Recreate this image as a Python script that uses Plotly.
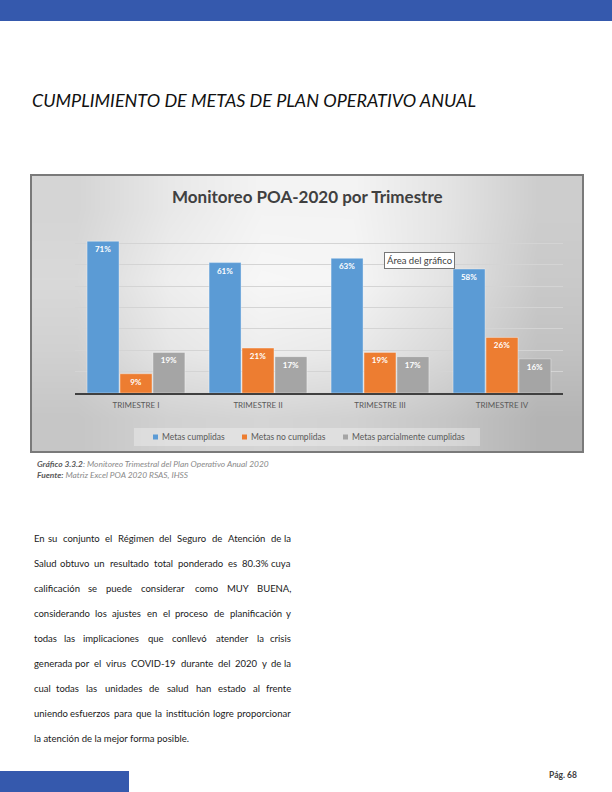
import plotly.graph_objects as go

W, H = 612, 792

categories = ["TRIMESTRE I", "TRIMESTRE II", "TRIMESTRE III", "TRIMESTRE IV"]
series_names = ["Metas cumplidas", "Metas no cumplidas", "Metas parcialmente cumplidas"]
metas_cumplidas = [0.71, 0.61, 0.63, 0.58]
metas_no_cumplidas = [0.09, 0.21, 0.19, 0.26]
metas_parciales = [0.19, 0.17, 0.17, 0.16]
series_values = [metas_cumplidas, metas_no_cumplidas, metas_parciales]
series_colors = ["#5B9BD5", "#ED7D31", "#A5A5A5"]

body_lines = [
    "En su conjunto el Régimen del Seguro de Atención de la",
    "Salud obtuvo un resultado total ponderado es 80.3% cuya",
    "calificación se puede considerar como MUY BUENA,",
    "considerando los ajustes en el proceso de planificación y",
    "todas las implicaciones que conllevó atender la crisis",
    "generada por el virus COVID-19 durante del 2020 y de la",
    "cual todas las unidades de salud han estado al frente",
    "uniendo esfuerzos para que la institución logre proporcionar",
    "la atención de la mejor forma posible.",
]

# background gradient levels (styling only)
bg_levels = [
    [0.55, 0.80, 0.95, 0.95, 0.75, 0.45],
    [0.60, 0.88, 1.00, 0.98, 0.74, 0.40],
    [0.50, 0.78, 0.88, 0.82, 0.60, 0.30],
    [0.35, 0.50, 0.55, 0.50, 0.35, 0.12],
]

# approximate glyph advance widths (per 1000 em) used only to justify text
CW = {" ": 193, "a": 493, "b": 556, "c": 459, "d": 556, "e": 522, "f": 319, "g": 496,
      "h": 556, "i": 235, "j": 235, "k": 508, "l": 235, "m": 831, "n": 556, "o": 548,
      "p": 548, "q": 556, "r": 371, "s": 424, "t": 352, "u": 556, "v": 506, "w": 770,
      "x": 488, "y": 506, "z": 448, "A": 672, "B": 631, "C": 666, "D": 734, "E": 554,
      "F": 534, "G": 712, "H": 752, "I": 276, "J": 396, "K": 666, "L": 478, "M": 914,
      "N": 752, "O": 800, "P": 591, "Q": 800, "R": 620, "S": 524, "T": 568, "U": 726,
      "V": 672, "W": 1018, "X": 644, "Y": 624, "Z": 594, ",": 230, ".": 230, "%": 760,
      "-": 340}
ACC = {"á": "a", "é": "e", "í": "i", "ó": "o", "ú": "u", "ñ": "n"}


def text_w(s, size):
    return 1.04 * sum(CW.get(ACC.get(c, c), 580) for c in s) * size / 1000.0


def px(x):
    return x / W


def py(y):
    return 1 - y / H


# chart box
bx0, by0, bx1, by1 = 31, 175, 583, 452
# plot area
plx0, plx1 = 75, 563
ply_top, ply_bot = 222, 393

fig = go.Figure()

fig.add_trace(go.Heatmap(
    z=bg_levels[::-1], zsmooth="best", showscale=False, hoverinfo="skip",
    colorscale=[[0, "#ababab"], [1, "#f7f7f7"]], zmin=0, zmax=1,
    xaxis="x", yaxis="y",
))

for name, vals, col in zip(series_names, series_values, series_colors):
    fig.add_trace(go.Bar(
        x=categories, y=vals, name=name, showlegend=False,
        marker=dict(color=col, line=dict(color="rgba(255,255,255,0.6)", width=0.6)),
        texttemplate="%{y:.0%}", textposition="inside", insidetextanchor="end",
        textfont=dict(family="Lato", size=8, color="white", weight="bold"),
        textangle=0,
        xaxis="x2", yaxis="y2",
    ))

fig.update_layout(
    width=W, height=H,
    margin=dict(l=0, r=0, t=0, b=0),
    paper_bgcolor="white", plot_bgcolor="rgba(0,0,0,0)",
    showlegend=False,
    barmode="group", bargap=0.19, bargroupgap=0.03,
    xaxis=dict(domain=[px(bx0), px(bx1)], visible=False, range=[-0.5, 5.5], fixedrange=True),
    yaxis=dict(domain=[py(by1), py(by0)], visible=False, range=[-0.5, 3.5], fixedrange=True),
    xaxis2=dict(domain=[px(plx0), px(plx1)], anchor="y2",
                showline=True, linecolor="#404040", linewidth=1.5,
                ticks="outside", ticklen=4, tickcolor="rgba(0,0,0,0)",
                tickfont=dict(family="Lato", size=8, color="#595959"),
                showgrid=False),
    yaxis2=dict(domain=[py(ply_bot), py(ply_top)], anchor="x2", range=[0, 0.8],
                dtick=0.1, showgrid=True, gridcolor="#d4d4d4", gridwidth=1,
                showticklabels=False, zeroline=False),
)

shapes = [
    dict(type="rect", x0=0, x1=1, y0=py(21), y1=1,
         fillcolor="#3559AD", line=dict(width=0)),
    dict(type="rect", x0=0, x1=px(129), y0=0, y1=py(771),
         fillcolor="#3559AD", line=dict(width=0)),
    dict(type="rect", x0=px(bx0), x1=px(bx1), y0=py(by1), y1=py(by0),
         fillcolor="rgba(0,0,0,0)", line=dict(color="#7a7a7a", width=2)),
    # legend box
    dict(type="rect", x0=px(134), x1=px(480), y0=py(446), y1=py(428),
         fillcolor="rgba(255,255,255,0.3)", line=dict(width=0)),
]

ann = []
# manual legend
leg_x = [153, 242, 343]
for name, col, lx in zip(series_names, series_colors, leg_x):
    shapes.append(dict(type="rect", x0=px(lx), x1=px(lx + 5), y0=py(439.5), y1=py(434.5),
                       fillcolor=col, line=dict(width=0)))
    ann.append(dict(text=name, x=px(lx + 7), y=py(437), xanchor="left", yanchor="middle",
                    font=dict(family="Lato", size=8.5, color="#595959")))

for s in shapes:
    s.update(xref="paper", yref="paper", layer="above")
fig.update_layout(shapes=shapes)

ann.append(dict(text="<i>CUMPLIMIENTO DE METAS DE PLAN OPERATIVO ANUAL</i>", x=px(30), y=py(100),
                xanchor="left", yanchor="middle",
                font=dict(family="Lato", size=18, color="#111111")))
ann.append(dict(text="<b>Monitoreo POA-2020 por Trimestre</b>", x=px(307), y=py(196),
                xanchor="center", yanchor="middle",
                font=dict(family="Lato", size=17, color="#404040")))
ann.append(dict(text="Área del gráfico", x=px(419), y=py(260), xanchor="center", yanchor="middle",
                font=dict(family="Lato", size=9.5, color="#404040"), bgcolor="white",
                bordercolor="#777777", borderwidth=1, borderpad=2))
ann.append(dict(text="<b><i>Gráfico 3.3.2</i></b><i><span style='color:#8a8a8a'>: Monitoreo Trimestral del Plan Operativo Anual 2020</span></i>"
                     "<br><b><i>Fuente:</i></b><i><span style='color:#8a8a8a'> Matriz Excel POA 2020 RSAS, IHSS</span></i>",
                x=px(35), y=py(469.5), xanchor="left", yanchor="middle", align="left",
                font=dict(family="Lato", size=8.4, color="#595959")))

# justified body text
BODY_SIZE = 9.5
left, right = 32, 293
for i, line in enumerate(body_lines):
    yy = py(538 + 25 * i)
    if i == len(body_lines) - 1:
        ann.append(dict(text=line, x=px(left), y=yy, xanchor="left", yanchor="middle",
                        font=dict(family="Lato", size=BODY_SIZE, color="#1a1a1a")))
        continue
    words = line.split()
    widths = [text_w(w, BODY_SIZE) for w in words]
    gap = (right - left - sum(widths)) / (len(words) - 1)
    cur = left
    for j, (wd, ww) in enumerate(zip(words, widths)):
        if j == 0:
            ann.append(dict(text=wd, x=px(left), y=yy, xanchor="left", yanchor="middle",
                            font=dict(family="Lato", size=BODY_SIZE, color="#1a1a1a")))
        elif j == len(words) - 1:
            ann.append(dict(text=wd, x=px(right), y=yy, xanchor="right", yanchor="middle",
                            font=dict(family="Lato", size=BODY_SIZE, color="#1a1a1a")))
        else:
            ann.append(dict(text=wd, x=px(cur + ww / 2), y=yy, xanchor="center", yanchor="middle",
                            font=dict(family="Lato", size=BODY_SIZE, color="#1a1a1a")))
        cur += ww + gap

ann.append(dict(text="<b>Pág. 68</b>", x=px(579), y=py(775), xanchor="right", yanchor="middle",
                font=dict(family="Lato", size=8.5, color="#404040")))
for a in ann:
    a.update(xref="paper", yref="paper", showarrow=False)
fig.update_layout(annotations=ann)

fig.write_html("out.html", config={"displayModeBar": False},
               post_script="document.body.style.margin='0';document.body.style.overflow='hidden';")
